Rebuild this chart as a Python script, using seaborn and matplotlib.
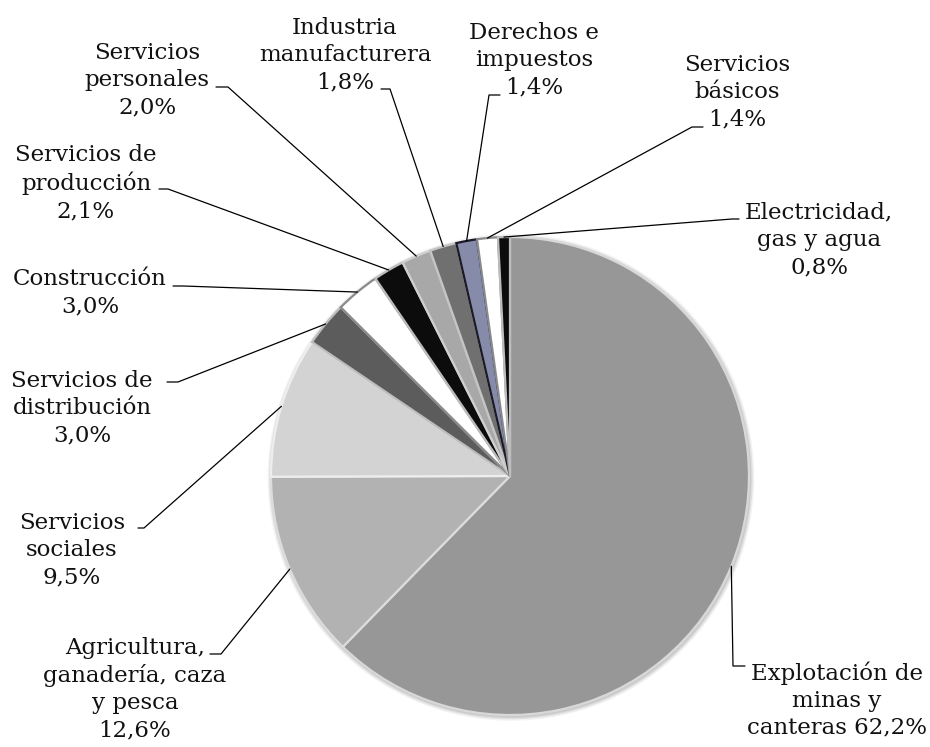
import numpy as np
import matplotlib
matplotlib.use("Agg")
import matplotlib.pyplot as plt
import seaborn as sns

# Data: PIB por actividad económica (%)
sectores = [
    "Explotación de\nminas y\ncanteras 62,2%",
    "Agricultura,\nganadería, caza\ny pesca\n12,6%",
    "Servicios\nsociales\n9,5%",
    "Servicios de\ndistribución\n3,0%",
    "Construcción\n3,0%",
    "Servicios de\nproducción\n2,1%",
    "Servicios\npersonales\n2,0%",
    "Industria\nmanufacturera\n1,8%",
    "Derechos e\nimpuestos\n1,4%",
    "Servicios\nbásicos\n1,4%",
    "Electricidad,\ngas y agua\n0,8%",
]
participacion = [62.2, 12.6, 9.5, 3.0, 3.0, 2.1, 2.0, 1.8, 1.4, 1.4, 0.8]

colores = ["#979797", "#b2b2b2", "#d3d3d3", "#5c5c5c", "#ffffff", "#0c0c0c",
           "#a8a8a8", "#707070", "#858ba8", "#ffffff", "#0c0c0c"]
bordes = ["#d8d8d8", "#dcdcdc", "#eeeeee", "#bdbdbd", "#8a8a8a", "#bdbdbd",
          "#d0d0d0", "#c4c4c4", "#1a1a2a", "#8a8a8a", "#bdbdbd"]

# layout in pixels (figure 930x747)
W, H = 930, 747
cx, cy, R = 510, 476, 239

# label centre (px) and stub of the leader line (px)
label_pos = [(837, 700), (135, 689), (72, 550), (82, 408), (90, 293), (86, 183),
             (147, 80), (345, 55), (534, 60), (737, 92), (819, 240)]
stubs = [[(745, 666), (733, 666)], [(210, 654), (221, 654)], [(138, 528), (144, 528)],
         [(167, 382), (178, 382)], [(173, 286), (183, 286)], [(159, 189), (168, 189)],
         [(216, 87), (228, 87)], [(381, 89), (390, 89)], [(500, 95), (489, 95)],
         [(703, 127), (692, 127)], [(739, 219), (732, 219)]]


def px(x, y):
    return (x - cx) / R, (cy - y) / R


sns.set_theme(style="white")
plt.rcParams["font.family"] = ["DejaVu Serif"]

fig = plt.figure(figsize=(W / 100, H / 100), dpi=100)
ax = fig.add_axes([0, 0, 1, 1])

# soft shadow behind the pie
for k, a in [(1.018, 0.05), (1.012, 0.07), (1.006, 0.09)]:
    ax.add_patch(plt.Circle((0.004, -0.006), k, color="black", alpha=a, lw=0, zorder=0))

wedges, _ = ax.pie(participacion, colors=colores, startangle=90, counterclock=False,
                   radius=1.0, wedgeprops=dict(linewidth=1.6))
for w, ec in zip(wedges, bordes):
    w.set_edgecolor(ec)
    w.set_zorder(2)

for w, lab, (tx, ty), stub in zip(wedges, sectores, label_pos, stubs):
    ang = np.deg2rad((w.theta1 + w.theta2) / 2)
    pts = [px(*p) for p in stub] + [(np.cos(ang), np.sin(ang))]
    xs, ys = zip(*pts)
    ax.plot(xs, ys, color="black", lw=0.9, zorder=3)
    x, y = px(tx, ty)
    ax.text(x, y, lab, ha="center", va="center", fontsize=16.5, linespacing=1.3,
            color="#111111", zorder=4)

ax.set_xlim(-cx / R, (W - cx) / R)
ax.set_ylim((cy - H) / R, cy / R)
ax.set_aspect("auto")
ax.axis("off")

fig.savefig("out.png", dpi=100, facecolor="white")
